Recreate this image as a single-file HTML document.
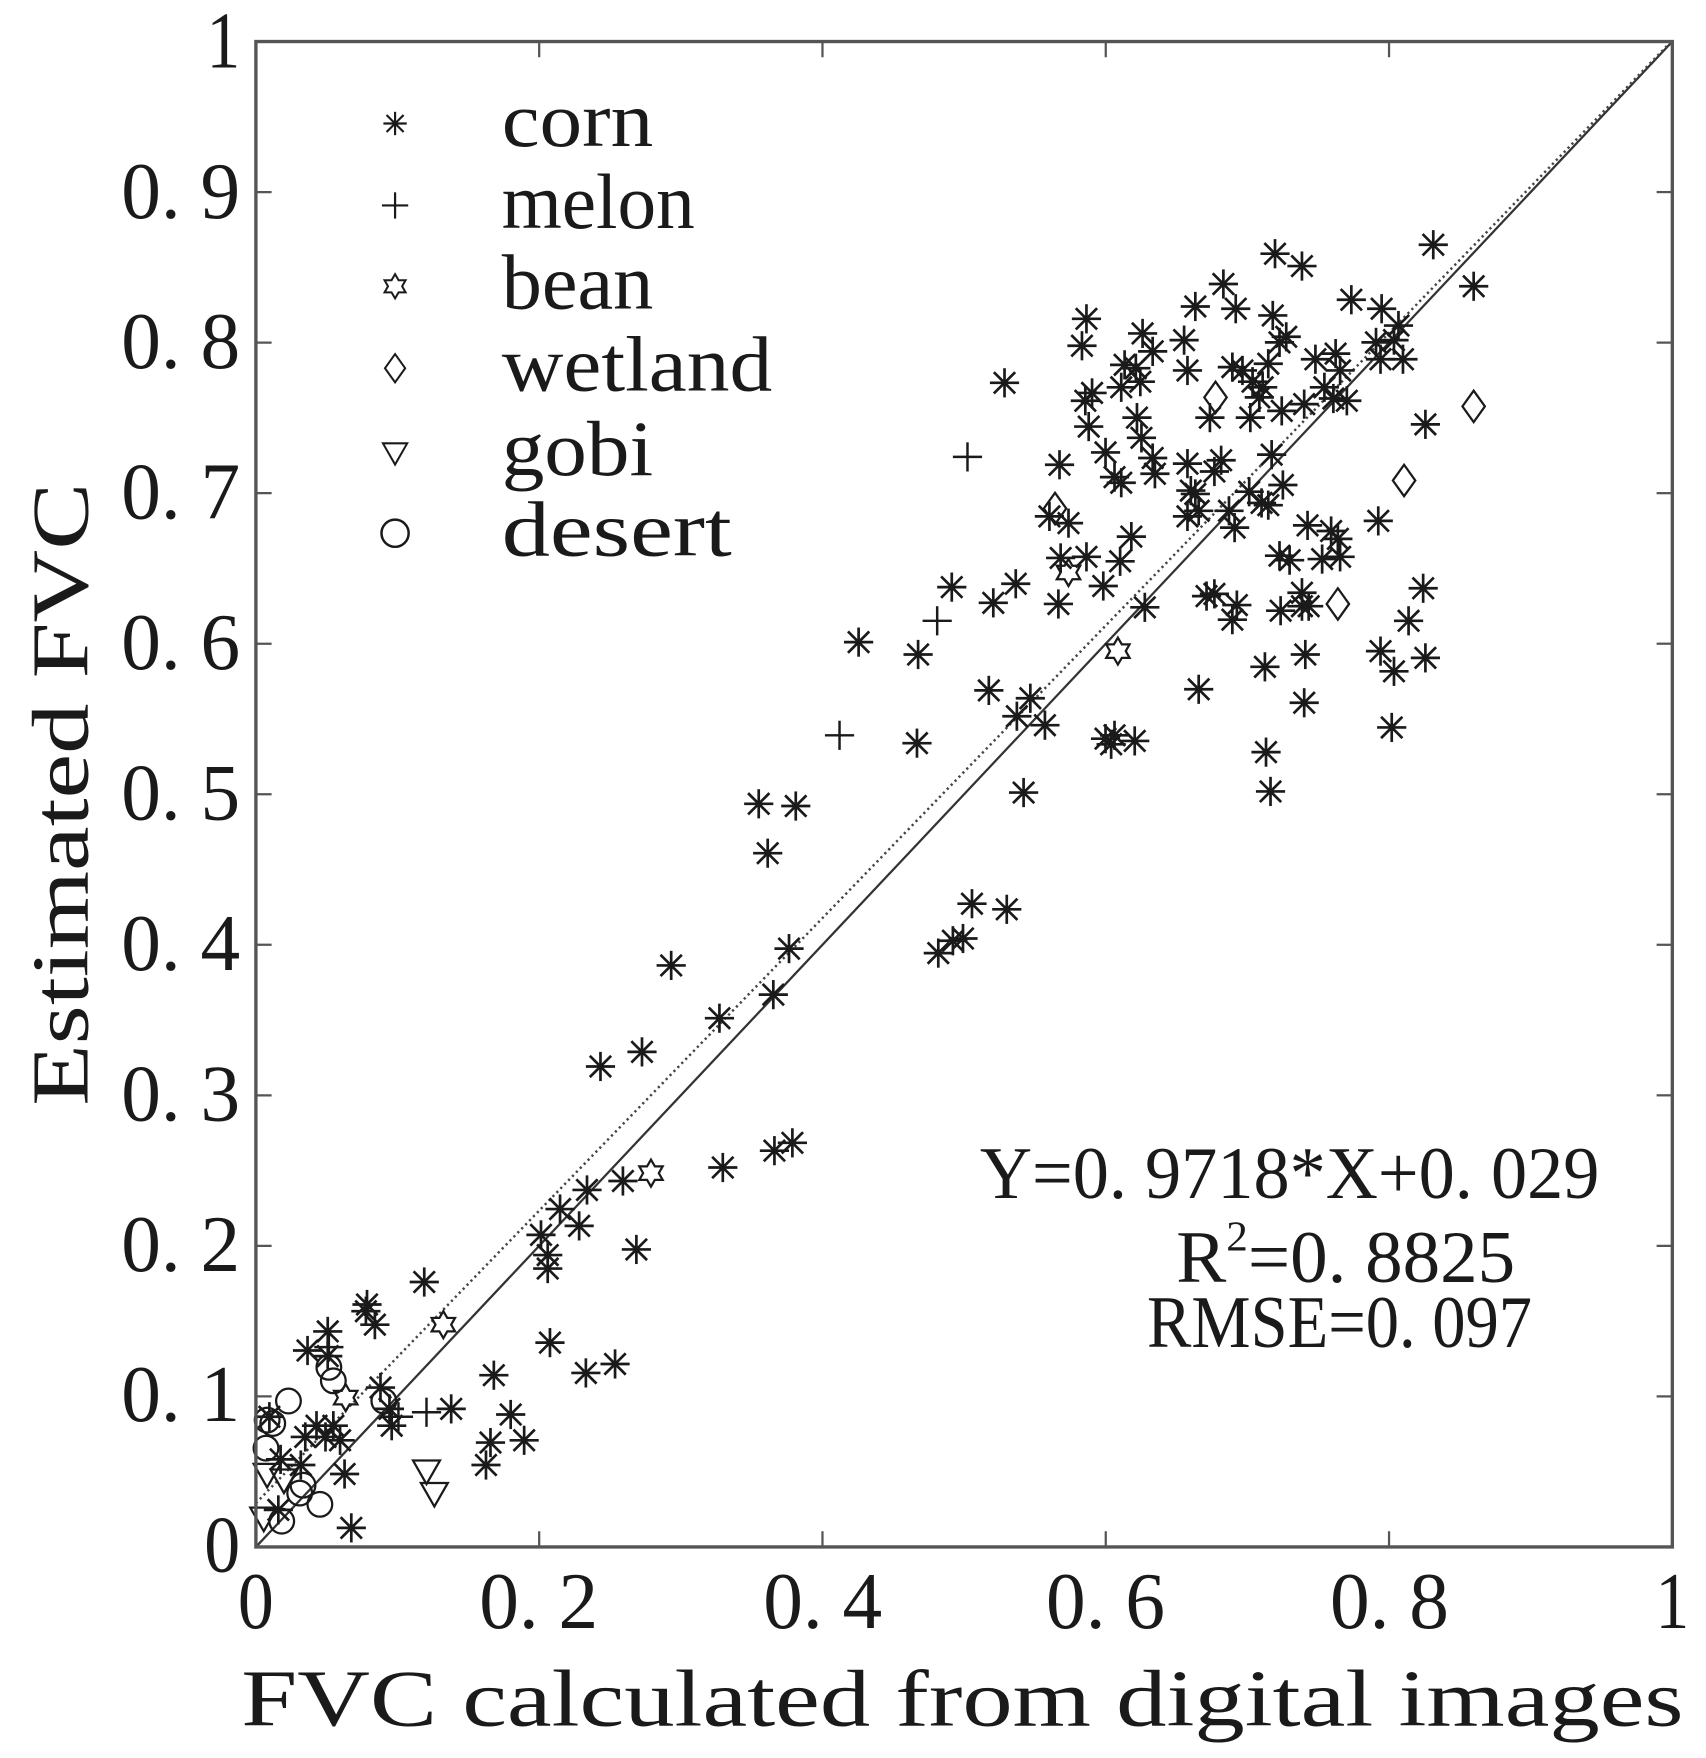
<!DOCTYPE html>
<html><head><meta charset="utf-8"><style>
html,body{margin:0;padding:0;background:#fff;}
svg{display:block;}
text{font-family:"Liberation Serif",serif;fill:#1a1a1a;}
</style></head><body>
<svg id="s" width="1706" height="1758" viewBox="0 0 1520 1566" preserveAspectRatio="none" xmlns="http://www.w3.org/2000/svg">
<defs>
<g id="star" stroke="#1a1a1a" stroke-width="2.4" fill="none"><line x1="-13" y1="0" x2="13" y2="0"/><line x1="0" y1="-13" x2="0" y2="13"/><line x1="-9.5" y1="-9.5" x2="9.5" y2="9.5"/><line x1="-9.5" y1="9.5" x2="9.5" y2="-9.5"/></g>
<g id="plus" stroke="#1a1a1a" stroke-width="2.2" fill="none"><line x1="-13" y1="0" x2="13" y2="0"/><line x1="0" y1="-13" x2="0" y2="13"/></g>
<g id="hex" stroke="#1a1a1a" stroke-width="2" fill="none"><polygon points="0,-12 3.5,-6 10.4,-6 7,0 10.4,6 3.5,6 0,12 -3.5,6 -10.4,6 -7,0 -10.4,-6 -3.5,-6"/></g>
<g id="dia" stroke="#1a1a1a" stroke-width="2" fill="none"><polygon points="0,-14 10,0 0,14 -10,0"/></g>
<g id="tri" stroke="#1a1a1a" stroke-width="2" fill="none"><polygon points="-12,-9 12,-9 0,12"/></g>
<g id="cir" stroke="#1a1a1a" stroke-width="2" fill="none"><circle r="11"/></g>
</defs>
<line x1="228" y1="1378" x2="1490" y2="37" stroke="#333" stroke-width="2"/>
<line x1="228" y1="1339" x2="1490" y2="36" stroke="#444" stroke-width="2.2" stroke-dasharray="2,3"/>
<g id="pts"></g>
<rect x="228" y="37" width="1262" height="1341" fill="none" stroke="#555" stroke-width="3"/>
<g id="ticks" stroke="#555" stroke-width="2"></g>
<g font-size="72" text-anchor="end">
<text x="214" y="60" textLength="30" lengthAdjust="spacingAndGlyphs">1</text>
<text x="214" y="194" textLength="106" lengthAdjust="spacingAndGlyphs">0. 9</text>
<text x="214" y="328" textLength="106" lengthAdjust="spacingAndGlyphs">0. 8</text>
<text x="214" y="462" textLength="106" lengthAdjust="spacingAndGlyphs">0. 7</text>
<text x="214" y="596" textLength="106" lengthAdjust="spacingAndGlyphs">0. 6</text>
<text x="214" y="730" textLength="106" lengthAdjust="spacingAndGlyphs">0. 5</text>
<text x="214" y="864" textLength="106" lengthAdjust="spacingAndGlyphs">0. 4</text>
<text x="214" y="998" textLength="106" lengthAdjust="spacingAndGlyphs">0. 3</text>
<text x="214" y="1132" textLength="106" lengthAdjust="spacingAndGlyphs">0. 2</text>
<text x="214" y="1266" textLength="106" lengthAdjust="spacingAndGlyphs">0. 1</text>
<text x="214" y="1400" textLength="32" lengthAdjust="spacingAndGlyphs">0</text>
</g>
<g font-size="72" text-anchor="middle">
<text x="228" y="1450" textLength="32" lengthAdjust="spacingAndGlyphs">0</text>
<text x="480" y="1450" textLength="106" lengthAdjust="spacingAndGlyphs">0. 2</text>
<text x="733" y="1450" textLength="106" lengthAdjust="spacingAndGlyphs">0. 4</text>
<text x="985" y="1450" textLength="106" lengthAdjust="spacingAndGlyphs">0. 6</text>
<text x="1238" y="1450" textLength="106" lengthAdjust="spacingAndGlyphs">0. 8</text>
<text x="1490" y="1450" textLength="30" lengthAdjust="spacingAndGlyphs">1</text>
</g>
<text x="215" y="1537" font-size="72" textLength="1285" lengthAdjust="spacingAndGlyphs">FVC calculated from digital images</text>
<text transform="translate(78,985) rotate(-90)" font-size="72" textLength="555" lengthAdjust="spacingAndGlyphs">Estimated FVC</text>
<g font-size="70">
<text x="447" y="130" textLength="135" lengthAdjust="spacingAndGlyphs">corn</text>
<text x="447" y="203" textLength="172" lengthAdjust="spacingAndGlyphs">melon</text>
<text x="447" y="275" textLength="135" lengthAdjust="spacingAndGlyphs">bean</text>
<text x="447" y="348" textLength="241" lengthAdjust="spacingAndGlyphs">wetland</text>
<text x="447" y="423" textLength="135" lengthAdjust="spacingAndGlyphs">gobi</text>
<text x="447" y="495" textLength="205" lengthAdjust="spacingAndGlyphs">desert</text>
</g>
<g font-size="66">
<text x="873" y="1067" textLength="552" lengthAdjust="spacingAndGlyphs">Y=0. 9718*X+0. 029</text>
<text x="1048" y="1142" textLength="302" lengthAdjust="spacingAndGlyphs">R<tspan font-size="38" dy="-28">2</tspan><tspan dy="28">=0. 8825</tspan></text>
<text x="1022" y="1200" textLength="343" lengthAdjust="spacingAndGlyphs">RMSE=0. 097</text>
</g>
</svg>
<script>
var NS="http://www.w3.org/2000/svg",g=document.getElementById('pts'),t=document.getElementById('ticks');
function u(id,x,y,sc){var e=document.createElementNS(NS,'use');e.setAttribute('href','#'+id);e.setAttribute('transform','translate('+x+','+y+')'+(sc?' scale('+sc+')':''));g.appendChild(e);}
function ln(a,b,c,d){var e=document.createElementNS(NS,'line');e.setAttribute('x1',a);e.setAttribute('y1',b);e.setAttribute('x2',c);e.setAttribute('y2',d);t.appendChild(e);}
for(var i=1;i<10;i++){var y=1378-i*134.1;ln(228,y,242,y);ln(1490,y,1476,y);}
for(var i=1;i<5;i++){var x=228+i*252.4;ln(x,1378,x,1364);ln(x,37,x,51);}
var corn=[[1277,218],[1313,255],[1136,226],[1160,237],[1090,253],[1065,273],[1101,275],[1134,281],[1146,300],[1204,267],[1231,275],[1246,290],[1242,303],[1230,320],[968,284],[964,308],[1018,297],[1027,313],[1055,303],[1058,330],[1002,325],[1012,328],[999,345],[1016,340],[973,350],[895,341],[970,380],[967,357],[1013,372],[1017,390],[1027,408],[1029,422],[1078,372],[1098,327],[1107,330],[1116,340],[1125,345],[1130,324],[1140,305],[1172,320],[1190,315],[1194,330],[1180,345],[1162,360],[1142,366],[1122,354],[1114,372],[1188,355],[1200,357],[1270,378],[1250,320],[1226,305],[944,414],[985,403],[993,425],[999,430],[1058,413],[1088,410],[1082,420],[1113,438],[1133,405],[1143,432],[1124,448],[1095,455],[1100,470],[1130,450],[1140,495],[1149,499],[1165,468],[1186,473],[1192,480],[1228,464],[1065,440],[1068,455],[1058,460],[935,460],[945,497],[968,496],[952,466],[1008,478],[983,522],[998,500],[1061,437],[1075,531],[1082,529],[1102,539],[1098,552],[1141,544],[1160,540],[1160,528],[1166,540],[1178,498],[1194,496],[1268,524],[1255,553],[1270,586],[1230,580],[1242,598],[1163,583],[1127,594],[1162,626],[1068,614],[1240,648],[1128,670],[1132,705],[1020,541],[943,538],[905,520],[885,537],[848,523],[818,583],[765,572],[881,615],[906,638],[918,622],[931,646],[912,706],[993,655],[1011,660],[990,663],[985,658],[817,662],[897,810],[866,805],[836,849],[858,836],[849,838],[676,716],[709,718],[684,760],[703,845],[689,886],[598,860],[641,907],[535,950],[572,937],[644,1040],[690,1025],[706,1018],[523,1060],[555,1052],[499,1077],[516,1092],[567,1113],[482,1100],[488,1130],[488,1118],[490,1196],[522,1223],[548,1215],[378,1142],[327,1162],[326,1168],[334,1180],[274,1203],[292,1186],[292,1208],[339,1236],[347,1255],[349,1270],[402,1255],[440,1225],[455,1260],[437,1285],[467,1283],[433,1305],[240,1262],[250,1300],[272,1280],[282,1270],[290,1280],[297,1270],[303,1283],[307,1313],[313,1361],[248,1345],[268,1305]];
corn.forEach(function(p){u('star',p[0],p[1]);});
[[862,407],[835,553],[748,655],[380,1258],[355,1262],[293,1200]].forEach(function(p){u('plus',p[0],p[1]);});
[[952,510],[996,580],[580,1045],[395,1180],[308,1245]].forEach(function(p){u('hex',p[0],p[1]);});
[[1083,354],[1313,362],[940,453],[1251,428],[1192,538]].forEach(function(p){u('dia',p[0],p[1]);});
[[380,1310],[387,1330],[235,1352],[238,1313],[253,1318]].forEach(function(p){u('tri',p[0],p[1]);});
[[257,1248],[243,1268],[237,1290],[293,1218],[297,1230],[342,1248],[270,1323],[285,1340],[251,1355],[267,1330],[238,1265]].forEach(function(p){u('cir',p[0],p[1]);});
u('star',352,110,0.8);u('plus',352,183,0.9);u('hex',352,255,0.9);u('dia',352,328,0.9);u('tri',352,403,0.9);u('cir',352,475,1.1);
</script>
</body></html>
